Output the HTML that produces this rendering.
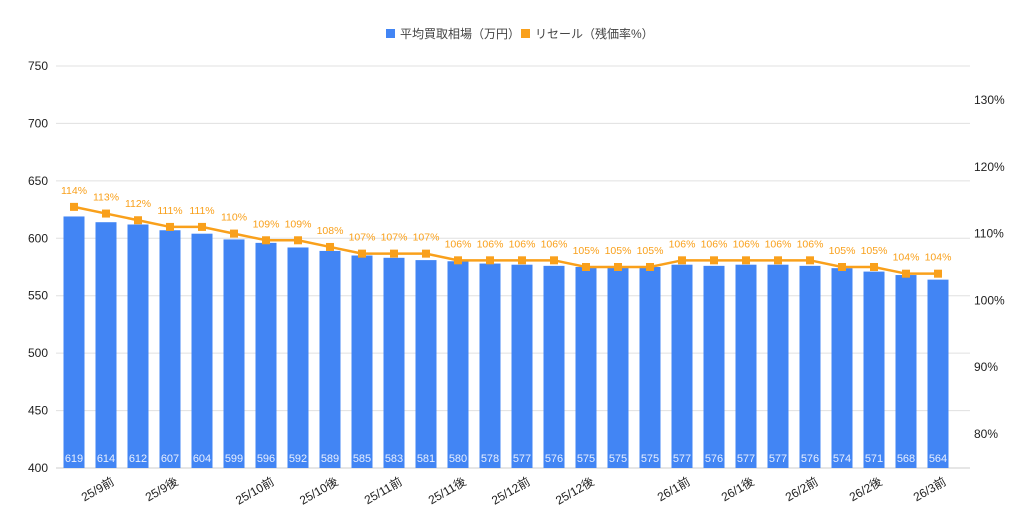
<!DOCTYPE html>
<html><head><meta charset="utf-8"><style>
body{margin:0;background:#fff;}
svg{display:block;font-family:"Liberation Sans","Noto Sans CJK JP",sans-serif;}
</style></head><body>
<svg id="chart" width="1024" height="529">
<g id="legend">
<rect x="386" y="29" width="9" height="9" fill="#4285f4"/>
<text x="400" y="38" font-size="12" fill="#444">平均買取相場（万円）</text>
<rect x="521" y="29" width="9" height="9" fill="#f9a01b"/>
<text x="535" y="38" font-size="12" fill="#444">リセール（残価率%）</text>
</g>
<g id="grid"></g><g id="bars"></g><g id="line"></g><g id="axes"></g>
</svg>
<script>
const categories=["25/9前a","25/9前","25/9後a","25/9後","25/10前a","25/10前b","25/10前","25/10後a","25/10後","25/11前a","25/11前","25/11後a","25/11後","25/12前a","25/12前","25/12後a","25/12後","26/1前a","26/1前b","26/1前","26/1後a","26/1後","26/2前a","26/2前","26/2後a","26/2後","26/3前a","26/3前"];
const shownLabels=["25/9前","25/9後","25/10前","25/10後","25/11前","25/11後","25/12前","25/12後","26/1前","26/1後","26/2前","26/2後","26/3前"];
const prices=[619,614,612,607,604,599,596,592,589,585,583,581,580,578,577,576,575,575,575,577,576,577,577,576,574,571,568,564];
const resale=[114,113,112,111,111,110,109,109,108,107,107,107,106,106,106,106,105,105,105,106,106,106,106,106,105,105,104,104];
const leftTicks=[400,450,500,550,600,650,700,750];
const rightTicks=[80,90,100,110,120,130];

const NS="http://www.w3.org/2000/svg";
function mk(tag,attrs,parent){const e=document.createElementNS(NS,tag);for(const k in attrs)e.setAttribute(k,attrs[k]);parent.appendChild(e);return e;}
const yL=v=>468-(v-400)*(402/350);
const yR=v=>100+(130-v)*6.68;
const xC=i=>74+i*32;
const grid=document.getElementById('grid'),bars=document.getElementById('bars'),line=document.getElementById('line'),axes=document.getElementById('axes');
leftTicks.forEach(t=>{
  const l=mk('line',{x1:56,x2:970,y1:yL(t),y2:yL(t),stroke:t===400?'#ccc':'#e0e0e0','stroke-width':1},grid);
  
  
  const tx=mk('text',{x:48,y:yL(t)+4,'text-anchor':'end','font-size':12,fill:'#222'},axes);
  tx.textContent=t;
  
  
});
rightTicks.forEach(t=>{
  const tx=mk('text',{x:974,y:yR(t)+4,'font-size':12,fill:'#222'},axes);
  tx.textContent=t+'%';
  
  
});
prices.forEach((v,i)=>{
  const r=mk('rect',{x:xC(i)-10.5,y:yL(v),width:21,height:yL(400)-yL(v),fill:'#4285f4'},bars);
  
  
  const tx=mk('text',{x:xC(i),y:462,'text-anchor':'middle','font-size':11,fill:'#e8efff'},bars);
  tx.textContent=v;
  
  
});
const pl=mk('polyline',{points:resale.map((v,i)=>xC(i)+','+yR(v)).join(' '),fill:'none',stroke:'#f9a01b','stroke-width':2.5},line);


resale.forEach((v,i)=>{
  const p=mk('rect',{x:xC(i)-4,y:yR(v)-4,width:8,height:8,fill:'#f9a01b'},line);
  
  
  const tx=mk('text',{x:xC(i),y:yR(v)-13,'text-anchor':'middle','font-size':10.5,fill:'#f9a01b'},line);
  tx.textContent=v+'%';
  
  
});
categories.forEach((c,i)=>{
  if(!shownLabels.includes(c))return;
  const x=xC(i)+9,y=484;
  const tx=mk('text',{x:x,y:y,'text-anchor':'end','font-size':12,fill:'#222',transform:'rotate(-30 '+x+' '+y+')'},axes);
  tx.textContent=c;
  
  
});
</script>
</body></html>
